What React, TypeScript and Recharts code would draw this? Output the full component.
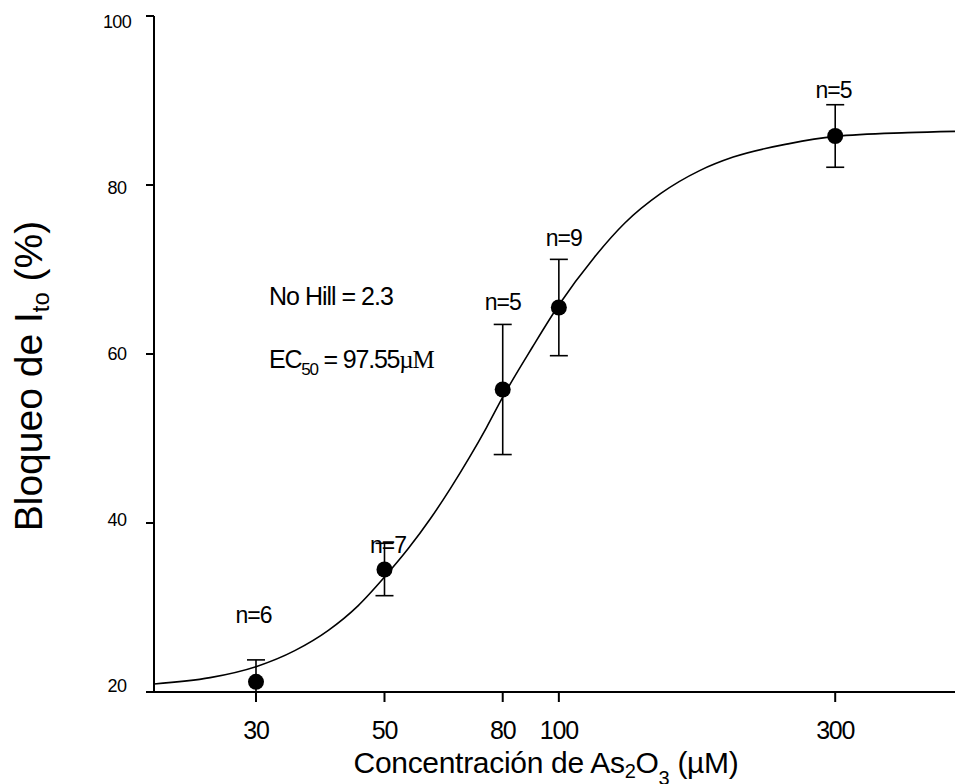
import React from "react";
import { ComposedChart, Line, Scatter, XAxis, YAxis, ErrorBar } from "recharts";

// As2O3 concentration (µM) vs mean Ito block (%)
const concentrations = [30, 50, 80, 100, 300];
const blockMean = [21.2, 34.5, 55.8, 65.5, 85.8];
const blockErr = [2.6, 3.1, 7.7, 5.7, 3.7];

// n labels, placed by hand above each point (data units)
const nText = ["n=6", "n=7", "n=5", "n=9", "n=5"];
const nTextX = [29.7, 50.7, 80, 102, 298];
const nTextY = [28.2, 36.5, 65.2, 72.8, 90.3];

// fitted Hill curve
const fitConc = [20, 25, 30, 35, 40, 45, 50, 55, 60, 65, 70, 75, 80, 90, 100, 115, 130, 150, 175, 200, 250, 300, 400, 483];
const fitBlock = [20.95, 21.7, 23.0, 24.9, 27.3, 30.2, 33.6, 37.0, 40.5, 44.1, 47.7, 51.3, 54.9, 60.8, 65.8, 71.4, 75.5, 79.0, 81.7, 83.3, 84.9, 85.75, 86.2, 86.35];

const xTicks = [30, 50, 80, 100, 300];
const yTicks = [20, 40, 60, 80, 100];
const Y_MIN = 20;

const FONT = "'Liberation Sans', Arial, sans-serif";

// lower whisker stops at the x axis, as in the original
const points = concentrations.map((x, i) => ({
  x,
  y: blockMean[i],
  err: [Math.min(blockErr[i], blockMean[i] - Y_MIN), blockErr[i]],
}));
const labels = nText.map((t, i) => ({ x: nTextX[i], y: nTextY[i], t }));
const fit = fitConc.map((x, i) => ({ x, y: fitBlock[i] }));

const XTick = (props: any) => {
  const { x, y, payload } = props;
  return (
    <text x={x} y={y + 35} textAnchor="middle" fontFamily={FONT} fontSize={25} letterSpacing={-1.2} fill="#000">
      {payload.value}
    </text>
  );
};

const YTick = (props: any) => {
  const { y, payload } = props;
  // labels sit slightly lower toward the top of the axis, like the original
  const ly = y + (692 - y) * 0.018;
  return (
    <text x={117} y={ly} textAnchor="middle" fontFamily={FONT} fontSize={18} letterSpacing={-0.6} fill="#000">
      {payload.value}
    </text>
  );
};

const Dot = (props: any) => <circle cx={props.cx} cy={props.cy} r={8} fill="#000" />;

const NLabel = (props: any) => (
  <text x={props.cx} y={props.cy} textAnchor="middle" fontFamily={FONT} fontSize={23} letterSpacing={-1} fill="#000">
    {props.payload.t}
  </text>
);

export default function App() {
  return (
    <div style={{ position: "fixed", left: 0, top: 0, width: 955, height: 784, background: "#fff" }}>
      <ComposedChart width={955} height={784} margin={{ top: 16, right: 0, bottom: 0, left: 0 }}>
        <XAxis
          dataKey="x"
          type="number"
          scale="log"
          domain={[20, 483]}
          allowDataOverflow
          ticks={xTicks}
          tick={<XTick />}
          tickSize={10}
          height={92}
          stroke="#000"
          strokeWidth={2}
          interval={0}
        />
        <YAxis
          dataKey="y"
          type="number"
          domain={[Y_MIN, 100]}
          allowDataOverflow
          ticks={yTicks}
          tick={<YTick />}
          tickSize={8}
          width={154}
          stroke="#000"
          strokeWidth={2}
          interval={0}
        />
        <Line
          data={fit}
          dataKey="y"
          type="monotone"
          stroke="#000"
          strokeWidth={1.6}
          dot={false}
          activeDot={false}
          isAnimationActive={false}
        />
        <Scatter data={points} dataKey="y" shape={<Dot />} isAnimationActive={false}>
          <ErrorBar dataKey="err" direction="y" width={9} stroke="#000" strokeWidth={1.6} />
        </Scatter>
        <Scatter data={labels} dataKey="y" shape={<NLabel />} isAnimationActive={false} />
      </ComposedChart>
      <svg width={955} height={784} style={{ position: "absolute", left: 0, top: 0, pointerEvents: "none" }}>
        <text x={269} y={305} fontFamily={FONT} fontSize={25} letterSpacing={-1} fill="#000">
          No Hill = 2.3
        </text>
        <text x={269} y={368} fontFamily={FONT} fontSize={25} letterSpacing={-1.2} fill="#000">
          EC<tspan fontSize={17} dy={7}>50</tspan>
          <tspan dy={-7}> = 97.55</tspan>
          <tspan fontFamily="'Liberation Serif', serif">µM</tspan>
        </text>
        <text x={546} y={773} textAnchor="middle" fontFamily={FONT} fontSize={30} letterSpacing={-0.3} fill="#000">
          Concentración de As<tspan fontSize={20} dy={5}>2</tspan>
          <tspan dy={-5}>O</tspan>
          <tspan fontSize={20} dy={12}>3</tspan>
          <tspan dy={-12}> (µM)</tspan>
        </text>
        <text
          x={42}
          y={376}
          transform="rotate(-90 42 376)"
          textAnchor="middle"
          fontFamily={FONT}
          fontSize={39}
          fill="#000"
        >
          Bloqueo de I<tspan fontSize={24} dy={7}>to</tspan>
          <tspan dy={-7}> (%)</tspan>
        </text>
      </svg>
    </div>
  );
}
